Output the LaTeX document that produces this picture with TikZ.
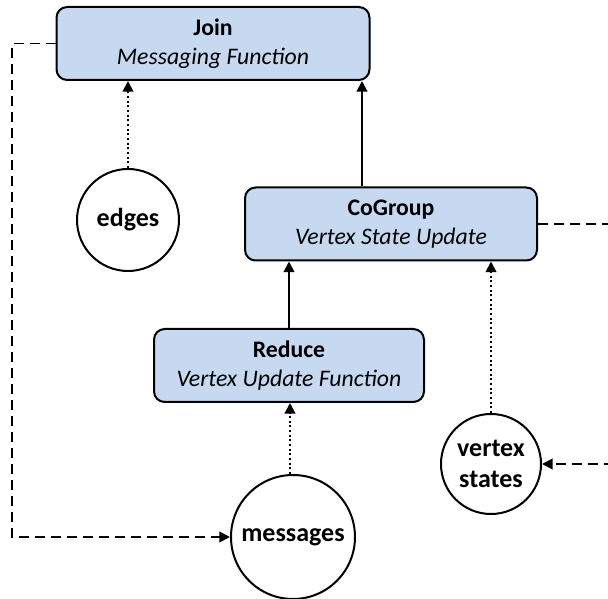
\documentclass[tikz,border=0pt]{standalone}
\usepackage{fontspec}
\setmainfont{Carlito}
\usetikzlibrary{arrows.meta}
\begin{document}
\begin{tikzpicture}[x=0.75pt,y=-0.75pt,
  op/.style={draw=black,line width=1.5pt,fill=opfill,rounded corners=8pt,
    minimum width=#1*0.75pt,minimum height=73*0.75pt,align=center,
    font=\fontsize{17.8}{21.8}\selectfont,inner sep=0pt},
  data/.style={draw=black,line width=1.5pt,fill=white,circle,
    minimum size=#1*0.75pt,align=center,inner sep=0pt,
    font=\fontsize{19.5}{23.3}\selectfont\bfseries},
  flow/.style={line width=1.5pt,-{Triangle[length=8pt,width=8pt]}},
  feed/.style={line width=1.5pt,dotted,-{Triangle[length=8pt,width=8pt]}},
  loop/.style={line width=1.4pt,dash pattern=on 7.5pt off 4.5pt,
    -{Triangle[length=8pt,width=8pt]}},
]
\definecolor{opfill}{RGB}{198,217,241}
\useasboundingbox (0,0) rectangle (608,599);
\clip (0,0) rectangle (608,599);

% operators
\node[op=313] (join) at (213,43.5) {\textbf{Join}\\\textit{Messaging Function}};
\node[op=292] (cogroup) at (391,224) {\textbf{CoGroup}\\\textit{Vertex State Update}};
\node[op=270] (reduce) at (289,365.5) {\textbf{Reduce}\\\textit{Vertex Update Function}};

% data sets
\node[data=102] (edges) at (128,220) {edges};
\node[data=100] (vstates) at (491,464) {vertex\\states};
\node[data=124] (messages) at (293,537) {messages};

% data flow
\draw[feed] (edges.north) -- (edges.north |- join.south);
\draw[flow] (cogroup.north -| 362,0) -- (362,0 |- join.south);
\draw[flow] (reduce.north -| 289,0) -- (289,0 |- cogroup.south);
\draw[feed] (vstates.north) -- (vstates.north |- cogroup.south);
\draw[feed] (messages.north -| 290,0) -- (290,0 |- reduce.south);

% iteration feedback
\coordinate (lturn) at (12,0);
\coordinate (rturn) at (640,0);
\draw[loop] (join.west) -- (lturn |- join.west) -- (lturn |- messages.west) -- (messages.west);
\draw[loop] (cogroup.east) -- (rturn |- cogroup.east) -- (rturn |- vstates.east) -- (vstates.east);
\end{tikzpicture}
\end{document}
